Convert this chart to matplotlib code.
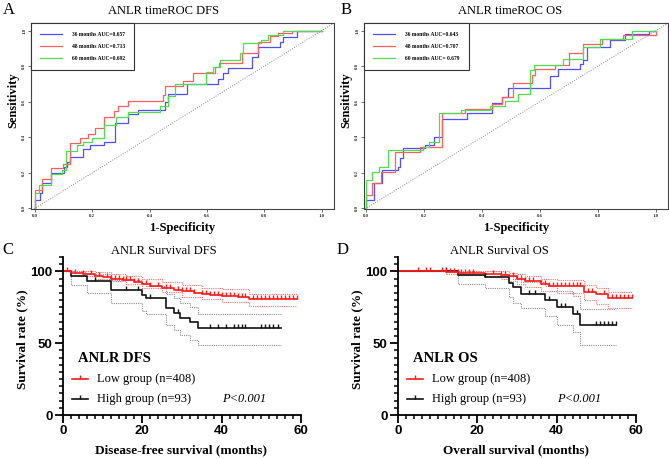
import numpy as np
import matplotlib
matplotlib.use('Agg')
import matplotlib.pyplot as plt
from matplotlib.lines import Line2D
from matplotlib.path import Path
from matplotlib.ticker import MultipleLocator, FixedLocator

W, H = 669.0, 459.0
SERIF = 'Liberation Serif'
SANS = 'Liberation Sans'

# ---- timeROC DFS (panel A) ----
dfs_36_fpr = [0, 0, 0.017, 0.025, 0.055, 0.101, 0.113, 0.122, 0.168, 0.192, 0.241, 0.28, 0.326, 0.36, 0.454, 0.465, 0.529, 0.639, 0.655, 0.674, 0.756, 0.779, 0.855, 0.865, 0.913, 1.0]
dfs_36_tpr = [0, 0.047, 0.084, 0.141, 0.2, 0.234, 0.263, 0.291, 0.332, 0.356, 0.375, 0.482, 0.529, 0.553, 0.6, 0.644, 0.7, 0.726, 0.764, 0.788, 0.854, 0.91, 0.938, 0.966, 1.0, 1.0]
dfs_48_fpr = [0, 0, 0.023, 0.055, 0.099, 0.122, 0.157, 0.186, 0.209, 0.241, 0.275, 0.29, 0.325, 0.448, 0.454, 0.517, 0.552, 0.628, 0.643, 0.721, 0.779, 0.82, 0.849, 0.895, 1.0]
dfs_48_tpr = [0, 0.103, 0.163, 0.225, 0.249, 0.366, 0.394, 0.418, 0.45, 0.516, 0.55, 0.576, 0.604, 0.638, 0.689, 0.719, 0.764, 0.797, 0.82, 0.873, 0.938, 0.97, 0.989, 1.0, 1.0]
dfs_60_fpr = [0, 0, 0.015, 0.055, 0.093, 0.108, 0.145, 0.168, 0.198, 0.241, 0.283, 0.325, 0.436, 0.465, 0.49, 0.596, 0.622, 0.645, 0.715, 0.727, 0.79, 0.814, 0.866, 1.0]
dfs_60_tpr = [0, 0.084, 0.131, 0.193, 0.216, 0.323, 0.356, 0.375, 0.394, 0.469, 0.516, 0.544, 0.576, 0.63, 0.7, 0.769, 0.797, 0.835, 0.872, 0.929, 0.945, 0.976, 1.0, 1.0]

# ---- timeROC OS (panel B) ----
os_36_fpr = [0, 0, 0.026, 0.055, 0.11, 0.118, 0.129, 0.205, 0.234, 0.262, 0.349, 0.434, 0.468, 0.491, 0.635, 0.664, 0.739, 0.75, 0.762, 0.842, 0.894, 0.975, 1.0]
os_36_tpr = [0, 0.047, 0.141, 0.216, 0.234, 0.282, 0.338, 0.356, 0.403, 0.501, 0.535, 0.591, 0.629, 0.675, 0.745, 0.782, 0.81, 0.835, 0.906, 0.947, 0.98, 1.0, 1.0]
os_48_fpr = [0, 0, 0.021, 0.053, 0.099, 0.187, 0.262, 0.342, 0.434, 0.468, 0.506, 0.572, 0.583, 0.652, 0.699, 0.75, 0.814, 0.888, 1.0]
os_48_tpr = [0, 0.075, 0.141, 0.206, 0.319, 0.347, 0.535, 0.557, 0.585, 0.625, 0.704, 0.75, 0.782, 0.807, 0.872, 0.925, 0.951, 0.975, 1.0]
os_60_fpr = [0, 0, 0.021, 0.046, 0.076, 0.198, 0.216, 0.253, 0.326, 0.428, 0.48, 0.526, 0.566, 0.578, 0.681, 0.75, 0.808, 0.917, 1.0]
os_60_tpr = [0, 0.159, 0.206, 0.234, 0.328, 0.347, 0.375, 0.535, 0.553, 0.576, 0.604, 0.644, 0.779, 0.807, 0.839, 0.91, 0.951, 1.0, 1.0]

dfs_auc = ['0.657', '0.713', '0.692']
os_auc = ['0.643', '0.707', ' 0.679']

# ---- KM DFS (panel C) ----
dfs_low_t = [0, 2, 5, 8, 10, 12, 15, 18, 20, 22, 25, 28, 30, 33, 35, 37, 40, 44, 47, 59]
dfs_low_s = [100, 99, 98.5, 97, 96, 95, 94, 92.5, 91, 90, 88.5, 87, 86, 85, 84.5, 83.5, 83, 82.5, 81, 81]
dfs_low_ci_t = [0, 3, 8, 12, 16, 20, 25, 30, 35, 40, 47, 59]
dfs_low_up = [100, 100, 99.5, 98, 96.5, 94.5, 92.5, 90.5, 88.5, 87.5, 84.5, 84.5]
dfs_low_lo = [100, 97, 95, 93, 91, 88.5, 85.5, 82.5, 80.5, 79, 75.6, 75.6]
dfs_low_cens = [1, 3, 5, 7, 9, 11, 12, 13, 14, 15, 16, 17, 18, 19, 21, 22, 24, 26, 27, 29, 30, 31, 32, 33, 35, 36, 37, 38, 39, 40, 41, 42, 43, 44, 45, 46, 48, 49, 50, 51, 52, 53, 54, 55, 56, 57, 58, 59]

dfs_high_t = [0, 2, 6, 12, 20, 21, 26, 28, 29.5, 32, 34, 55]
dfs_high_s = [100, 97, 93, 87, 83.5, 81.5, 74.5, 71, 67.5, 64.5, 60.5, 60.5]
dfs_high_up_t = [0, 5.5, 12, 20, 21, 26, 28, 29.5, 32, 34, 55]
dfs_high_up = [100, 98.5, 94, 91.5, 90, 84.5, 81.5, 78, 75, 70.3, 70.3]
dfs_high_lo_t = [0, 2, 6, 12, 20, 21, 26, 28, 29.5, 32, 34, 55]
dfs_high_lo = [100, 90.5, 85, 78, 72.5, 70.5, 63, 59, 55.5, 52.5, 49, 49]
dfs_high_cens = [8, 16, 19, 22, 29, 37, 39, 41, 43, 44, 45, 46, 50, 51, 52, 53, 54.3]

# ---- KM OS (panel D) ----
os_low_t = [0, 12, 15, 22, 26, 28, 30, 32, 36, 38, 40, 47, 50, 53, 59]
os_low_s = [100, 99.5, 99, 98.5, 97.5, 96.5, 95, 93.5, 91, 90, 89.5, 85.5, 84, 81.5, 81.5]
os_low_up_t = [0, 26, 28, 30, 32, 36, 40, 47, 50, 53, 59]
os_low_up = [100, 100, 99, 98, 97, 95, 94, 90.5, 88.5, 85.6, 85.6]
os_low_lo_t = [0, 12, 15, 22, 26, 28, 30, 32, 36, 40, 47, 50, 53, 59]
os_low_lo = [100, 98.5, 97.5, 96.5, 95, 93.5, 91.5, 89, 86.5, 85, 80, 77.5, 74.4, 74.4]
os_low_cens = [5, 7, 8, 11, 12, 13, 14, 15, 16, 17, 18, 19, 24, 26, 27, 29, 30, 31, 32, 33, 34, 36, 37, 38, 39, 40, 41, 42, 43, 44, 45, 46, 48, 49, 52, 54, 55, 56, 57, 58, 59]

os_high_t = [0, 15, 22, 28, 29, 31, 37, 40, 44, 46, 55]
os_high_s = [100, 97.7, 95.9, 92, 89, 84.4, 80, 75.5, 70.3, 62.7, 62.7]
os_high_up_t = [0, 27, 28, 29, 31, 37, 40, 44, 46, 55]
os_high_up = [100, 98.5, 97, 95, 92.5, 90, 86.5, 83, 74, 74]
os_high_lo_t = [0, 15, 22, 28, 29, 31, 37, 40, 44, 46, 55]
os_high_lo = [100, 91.5, 88.5, 82, 78, 74.5, 69, 63, 57.5, 48.5, 48.5]
os_high_cens = [12, 22, 33, 34.5, 38, 41, 42, 45, 50, 51, 52, 53, 54, 55]

roc_colors = ['#4f4fff', '#ff5f5f', '#4fdd4f']
months = ['36', '48', '60']


def box(l, t, r, b):
    return [l / W, 1 - b / H, (r - l) / W, (b - t) / H]


def ftext(x, y, s, **kw):
    fig.text(x / W, 1 - y / H, s, **kw)


def step_at(t, times, vals):
    idx = np.searchsorted(times, t, side='right') - 1
    return np.asarray(vals)[idx]


fig = plt.figure(figsize=(W / 100, H / 100), dpi=100)

# ROC panels
def roc_panel(rect, xlim, curves, aucs):
    ax = fig.add_axes(rect)
    ax.axline((0, 0), (1, 1), color='#888888', lw=0.7, ls=(0, (1, 1.5)))
    for (fx, ty), c, m, a in zip(curves, roc_colors, months, aucs):
        ax.step(fx, ty, where='post', color=c, lw=0.9,
                label='%s months AUC=%s' % (m, a))
    ax.set_xlim(*xlim)
    ax.set_ylim(-0.004, 1.043)
    ticks = [0, 0.2, 0.4, 0.6, 0.8, 1.0]
    ax.set_xticks(ticks)
    ax.set_yticks(ticks)
    ax.set_xticklabels(['%.1f' % v for v in ticks], fontsize=3.5,
                       family=SERIF, weight='bold')
    ax.set_yticklabels(['%.1f' % v for v in ticks], fontsize=3.5,
                       family=SERIF, weight='bold', rotation=90, va='center')
    ax.tick_params(length=2, width=0.5, pad=1.5, colors='#333333')
    for sp in ax.spines.values():
        sp.set_color('#444444')
        sp.set_linewidth(0.8)
    leg = ax.legend(loc='upper left', bbox_to_anchor=(0, 1), borderaxespad=0,
                    fancybox=False, edgecolor='#333333', framealpha=1,
                    prop={'family': SERIF, 'weight': 'bold', 'size': 4},
                    handlelength=4.0, handletextpad=1.8, labelspacing=1.25,
                    borderpad=1.6)
    leg.get_frame().set_linewidth(0.8)
    return ax

roc_panel(box(31, 23, 334, 209), (-0.014, 1.043),
          [(dfs_36_fpr, dfs_36_tpr), (dfs_48_fpr, dfs_48_tpr), (dfs_60_fpr, dfs_60_tpr)], dfs_auc)
roc_panel(box(364, 23, 668, 209), (-0.007, 1.042),
          [(os_36_fpr, os_36_tpr), (os_48_fpr, os_48_tpr), (os_60_fpr, os_60_tpr)], os_auc)

ftext(9, 10, 'A', fontsize=12, family=SERIF, ha='center', va='center')
ftext(346, 10, 'B', fontsize=12, family=SERIF, ha='center', va='center')
ftext(163, 11, 'ANLR timeROC DFS', fontsize=9, family=SERIF, ha='center', va='center')
ftext(510, 11, 'ANLR timeROC OS', fontsize=9, family=SERIF, ha='center', va='center')
ftext(13, 100, 'Sensitivity', fontsize=9, family=SERIF, weight='bold', rotation=90, ha='center', va='center')
ftext(346, 100, 'Sensitivity', fontsize=9, family=SERIF, weight='bold', rotation=90, ha='center', va='center')
ftext(182, 228, '1-Specificity', fontsize=9, family=SERIF, weight='bold', ha='center', va='center')
ftext(516, 228, '1-Specificity', fontsize=9, family=SERIF, weight='bold', ha='center', va='center')

# KM panels
up_tick = Path([(0, 0), (0, 1)], [Path.MOVETO, Path.LINETO])


def km_panel(rect, low, high):
    ax = fig.add_axes(rect)
    lt, ls, lut, lu, llt, ll, lc = low
    ht, hs, hut, hu, hlt, hl, hc = high
    ax.step(hut, hu, where='post', color='#8c8c8c', lw=0.8, ls=(0, (1, 1)), clip_on=False)
    ax.step(hlt, hl, where='post', color='#8c8c8c', lw=0.8, ls=(0, (1, 1)), clip_on=False)
    ax.step(lut, lu, where='post', color='#ff7070', lw=0.8, ls=(0, (1, 1)), clip_on=False)
    ax.step(llt, ll, where='post', color='#ff7070', lw=0.8, ls=(0, (1, 1)), clip_on=False)
    ax.step(ht, hs, where='post', color='#111111', lw=1.2, clip_on=False)
    ax.step(lt, ls, where='post', color='#ff1a1a', lw=1.2, clip_on=False)
    ax.plot(hc, step_at(hc, ht, hs), ls='none', marker=up_tick, ms=6,
            mew=1.0, mec='#111111', clip_on=False)
    ax.plot(lc, step_at(lc, lt, ls), ls='none', marker=up_tick, ms=6,
            mew=1.0, mec='#ff1a1a', clip_on=False)
    ax.set_xlim(0, 60)
    ax.set_ylim(0, 110)
    for s in ['top', 'right']:
        ax.spines[s].set_visible(False)
    for s in ['left', 'bottom']:
        ax.spines[s].set_linewidth(1.3)
    ax.xaxis.set_major_locator(FixedLocator([0, 20, 40, 60]))
    ax.xaxis.set_minor_locator(MultipleLocator(2))
    ax.yaxis.set_major_locator(FixedLocator([0, 50, 100]))
    ax.yaxis.set_minor_locator(MultipleLocator(5))
    ax.tick_params(which='major', length=5.5, width=1.3, pad=2)
    ax.tick_params(which='minor', length=3, width=1.1)
    for lab in ax.get_xticklabels() + ax.get_yticklabels():
        lab.set_family(SANS)
        lab.set_weight('bold')
        lab.set_fontsize(9.5)
    return ax

km_panel(box(63, 257, 301, 415),
         (dfs_low_t, dfs_low_s, dfs_low_ci_t, dfs_low_up, dfs_low_ci_t, dfs_low_lo, dfs_low_cens),
         (dfs_high_t, dfs_high_s, dfs_high_up_t, dfs_high_up, dfs_high_lo_t, dfs_high_lo, dfs_high_cens))
km_panel(box(398, 257, 636, 415),
         (os_low_t, os_low_s, os_low_up_t, os_low_up, os_low_lo_t, os_low_lo, os_low_cens),
         (os_high_t, os_high_s, os_high_up_t, os_high_up, os_high_lo_t, os_high_lo, os_high_cens))

for dx, tag, name, xl in [(0, 'C', 'DFS', 'Disease-free survival (months)'),
                          (335, 'D', 'OS', 'Overall survival (months)')]:
    ftext(8 + dx, 250, tag, fontsize=12, family=SERIF, ha='center', va='center')
    ftext(164 + dx, 251, 'ANLR Survival %s' % name, fontsize=9, family=SERIF, ha='center', va='center')
    ftext(22 + dx, 339, 'Survival rate (%)', fontsize=9.5, family=SERIF, weight='bold',
          rotation=90, ha='center', va='center')
    ftext(181 + dx, 450, xl, fontsize=9.5, family=SERIF, weight='bold', ha='center', va='center')
    ftext(78 + dx, 358, 'ANLR %s' % name, fontsize=10.5, family=SERIF, weight='bold', ha='left', va='center')
    for y, c, lab in [(379, '#ff1a1a', 'Low group (n=408)'), (399, '#111111', 'High group (n=93)')]:
        fig.add_artist(Line2D([(72 + dx) / W, (88 + dx) / W], [1 - y / H, 1 - y / H],
                              color=c, lw=1.2, transform=fig.transFigure))
        fig.add_artist(Line2D([(80 + dx) / W], [1 - y / H], color=c, ls='none',
                              marker=up_tick, ms=6, mew=1.0, mec=c, transform=fig.transFigure))
        ftext(97 + dx, y, lab, fontsize=9, family=SERIF, ha='left', va='center')
    ftext(222 + dx, 399, 'P<0.001', fontsize=9, family=SERIF, style='italic', ha='left', va='center')

fig.savefig('out.png', dpi=100)
